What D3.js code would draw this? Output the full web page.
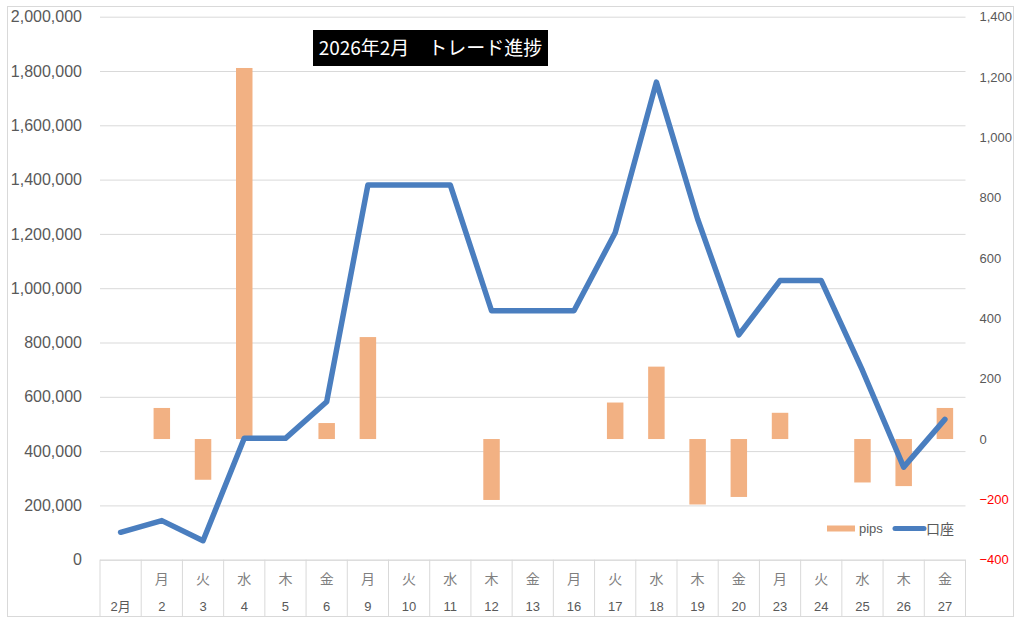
<!DOCTYPE html>
<html>
<head>
<meta charset="utf-8">
<script src="https://cdn.jsdelivr.net/npm/d3@7"></script>
<style>
  body { margin: 0; background: #fff; }
  svg { display: block; }
  text { font-family: "Liberation Sans", "Noto Sans CJK JP", sans-serif; }
</style>
</head>
<body>
<svg id="chart" width="1024" height="626"></svg>
<script>
// categories (two-row axis: weekday + date)
const weekdays = ["", "月", "火", "水", "木", "金", "月", "火", "水", "木", "金",
                  "月", "火", "水", "木", "金", "月", "火", "水", "木", "金"];
const dates = ["2月", "2", "3", "4", "5", "6", "9", "10", "11", "12", "13",
               "16", "17", "18", "19", "20", "23", "24", "25", "26", "27"];

// pips per day (right axis), null = no trade
const pips = [null, 103, -135, 1230, null, 53, 338, null, null, -202, null,
              null, 121, 240, -217, -192, 87, null, -144, -156, 103];

// account balance (left axis)
const account = [101000, 144000, 70000, 447000, 447000, 582000, 1380000, 1380000, 1380000, 917000, 917000,
                 917000, 1204000, 1759000, 1255000, 828000, 1028000, 1028000, 697000, 341000, 517000];

const leftTicks = d3.range(0, 2000001, 200000);
const rightTicks = d3.range(-400, 1401, 200);

const title = "2026年2月　トレード進捗";

const svg = d3.select("#chart");
const plotL = 100, plotR = 965.5, plotT = 16.7, plotB = 559.7;

// outer border of the chart
svg.append("rect")
    .attr("x", 7.5).attr("y", 6.5)
    .attr("width", 1006).attr("height", 610)
    .attr("fill", "#fff")
    .attr("stroke", "#d9d9d9");

const x = d3.scaleBand()
    .domain(d3.range(dates.length))
    .range([plotL, plotR])
    .padding(0);

const y = d3.scaleLinear().domain([0, 2000000]).range([plotB, plotT]);
const y2 = d3.scaleLinear().domain([-400, 1400]).range([plotB, plotT]);

// gridlines
svg.append("g")
    .attr("transform", `translate(${plotL},0)`)
    .call(d3.axisLeft(y).tickValues(leftTicks).tickSize(-(plotR - plotL)).tickFormat(""))
    .call(g => g.select(".domain").remove())
    .call(g => g.selectAll("line").attr("stroke", "#d9d9d9"));

// left axis labels
svg.append("g")
    .attr("transform", `translate(${plotL},0)`)
    .call(d3.axisLeft(y).tickValues(leftTicks).tickSize(0).tickPadding(18).tickFormat(d3.format(",")))
    .call(g => g.select(".domain").remove())
    .call(g => g.selectAll("text")
        .attr("font-size", 16)
        .attr("fill", "#595959")
        .style("font-family", "Liberation Sans"));

// right axis labels
svg.append("g")
    .attr("transform", `translate(${plotR},0)`)
    .call(d3.axisRight(y2).tickValues(rightTicks).tickSize(0).tickPadding(14).tickFormat(d3.format(",")))
    .call(g => g.select(".domain").remove())
    .call(g => g.selectAll("text")
        .attr("font-size", 13)
        .attr("fill", d => d < 0 ? "#ff0000" : "#595959")
        .style("font-family", "Liberation Sans"));

// category table
const catG = svg.append("g");
catG.append("line")
    .attr("x1", plotL).attr("x2", plotR)
    .attr("y1", plotB + 0.5).attr("y2", plotB + 0.5)
    .attr("stroke", "#d9d9d9");
catG.selectAll(".div")
    .data(d3.range(dates.length + 1))
    .join("line")
    .attr("x1", i => i < dates.length ? x(i) : plotR)
    .attr("x2", i => i < dates.length ? x(i) : plotR)
    .attr("y1", plotB).attr("y2", 617)
    .attr("stroke", "#d9d9d9");
catG.selectAll(".wd")
    .data(weekdays)
    .join("text")
    .attr("x", (d, i) => x(i) + x.bandwidth() / 2)
    .attr("y", 584)
    .attr("text-anchor", "middle")
    .attr("font-size", 14)
    .attr("fill", "#7f7f7f")
    .style("font-family", "Noto Sans CJK JP")
    .text(d => d);
catG.selectAll(".dt")
    .data(dates)
    .join("text")
    .attr("x", (d, i) => x(i) + x.bandwidth() / 2)
    .attr("y", 611)
    .attr("text-anchor", "middle")
    .attr("font-size", 13)
    .attr("fill", "#595959")
    .style("font-family", "Liberation Sans, Noto Sans CJK JP")
    .text(d => d);

// pips bars
const barW = x.bandwidth() * 0.4;
svg.append("g")
    .selectAll("rect")
    .data(pips.map((v, i) => ({ v, i })).filter(d => d.v !== null))
    .join("rect")
    .attr("x", d => x(d.i) + (x.bandwidth() - barW) / 2)
    .attr("width", barW)
    .attr("y", d => y2(Math.max(0, d.v)))
    .attr("height", d => Math.abs(y2(d.v) - y2(0)))
    .attr("fill", "#f2b183");

// account line
const line = d3.line()
    .x((d, i) => x(i) + x.bandwidth() / 2)
    .y(d => y(d));
svg.append("path")
    .datum(account)
    .attr("d", line)
    .attr("fill", "none")
    .attr("stroke", "#4a7ebf")
    .attr("stroke-width", 5.5)
    .attr("stroke-linejoin", "round")
    .attr("stroke-linecap", "round");

// title box
const tg = svg.append("g");
tg.append("rect")
    .attr("x", 313).attr("y", 30)
    .attr("width", 235).attr("height", 36)
    .attr("fill", "#000");
tg.append("text")
    .attr("x", 430.5).attr("y", 55)
    .attr("text-anchor", "middle")
    .attr("font-size", 19)
    .attr("fill", "#fff")
    .style("font-family", "Noto Sans CJK JP")
    .style("white-space", "pre")
    .text(title);

// legend
const lg = svg.append("g");
lg.append("rect")
    .attr("x", 827).attr("y", 525.5)
    .attr("width", 28).attr("height", 6)
    .attr("fill", "#f2b183");
lg.append("text")
    .attr("x", 859).attr("y", 533)
    .attr("font-size", 13)
    .attr("fill", "#595959")
    .text("pips");
lg.append("line")
    .attr("x1", 895).attr("x2", 924)
    .attr("y1", 528.5).attr("y2", 528.5)
    .attr("stroke", "#4a7ebf")
    .attr("stroke-width", 5)
    .attr("stroke-linecap", "round");
lg.append("text")
    .attr("x", 926).attr("y", 534)
    .attr("font-size", 14)
    .attr("fill", "#595959")
    .style("font-family", "Noto Sans CJK JP")
    .text("口座");
</script>
</body>
</html>
